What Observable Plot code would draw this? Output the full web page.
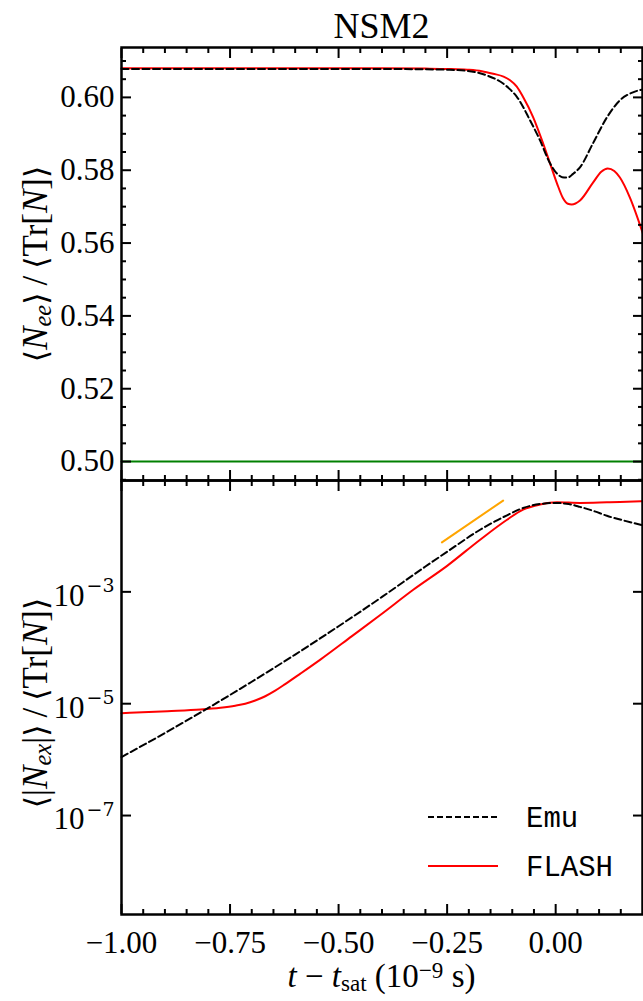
<!DOCTYPE html>
<html>
<head>
<meta charset="utf-8">
<script src="https://cdn.jsdelivr.net/npm/d3@7"></script>
<script src="https://cdn.jsdelivr.net/npm/@observablehq/plot@0.6"></script>
<style>
html,body{margin:0;padding:0;background:#fff;}
#chart{position:relative;width:643px;height:1001px;overflow:hidden;font-family:"Liberation Serif","Times New Roman",serif;color:#000;}
#chart .panel{position:absolute;left:0;}
.lbl{position:absolute;white-space:nowrap;}
.ylab{font-size:35px;line-height:38px;transform:translate(-50%,-50%) rotate(-90deg);}
.lbl sub,.lbl sup{font-size:0.7em;line-height:0;}
.lbl sup{vertical-align:0.38em;}
.lbl sub{vertical-align:-0.18em;}
.br{font-family:"DejaVu Serif",serif;font-size:0.9em;}
</style>
</head>
<body>
<div id="chart"></div>
<script>
// ---------- data ----------
const title = "NSM2";
const seriesNames = ["Emu", "FLASH"];
const seriesColors = ["#000000", "#ff0000"];

// top panel: <N_ee>/<Tr[N]>
const topFlashT = [-1.0, -0.6, -0.4, -0.30, -0.25, -0.204, -0.17, -0.144, -0.12, -0.105, -0.09, -0.075, -0.052, -0.029, -0.013, 0.003, 0.017, 0.028, 0.037, 0.056, 0.086, 0.105, 0.120, 0.135, 0.148, 0.171, 0.201];
const topFlashV = [0.6080, 0.6080, 0.6080, 0.6079, 0.6078, 0.6076, 0.6072, 0.6065, 0.6057, 0.6047, 0.6030, 0.6001, 0.5946, 0.5874, 0.5819, 0.5764, 0.5723, 0.5708, 0.5706, 0.5717, 0.5766, 0.5796, 0.5805, 0.5798, 0.5780, 0.5725, 0.5626];
const topEmuT = [-1.0, -0.4, -0.30, -0.25, -0.204, -0.18, -0.158, -0.121, -0.105, -0.089, -0.059, -0.036, -0.013, 0.003, 0.015, 0.028, 0.040, 0.056, 0.086, 0.118, 0.148, 0.178, 0.201];
const topEmuV = [0.6078, 0.6078, 0.6077, 0.6076, 0.6073, 0.6068, 0.6060, 0.6038, 0.6022, 0.6001, 0.5937, 0.5882, 0.5819, 0.5791, 0.5781, 0.5780, 0.5790, 0.5808, 0.5874, 0.5945, 0.5992, 0.6014, 0.6022];
const greenT = [-1.0, 0.2];
const greenV = [0.5, 0.5];

// bottom panel: <|N_ex|>/<Tr[N]>
const botFlashT = [-1.0, -0.894, -0.818, -0.772, -0.738, -0.715, -0.692, -0.669, -0.646, -0.623, -0.588, -0.542, -0.47, -0.404, -0.328, -0.250, -0.174, -0.112, -0.075, -0.036, 0.003, 0.056, 0.118, 0.148, 0.201];
const botFlashV = [6.76e-6, 7.35e-6, 7.87e-6, 8.47e-6, 9.21e-6, 1.00e-5, 1.14e-5, 1.36e-5, 1.71e-5, 2.24e-5, 3.45e-5, 6.15e-5, 1.60e-4, 3.86e-4, 1.09e-3, 2.92e-3, 8.57e-3, 1.95e-2, 2.96e-2, 3.64e-2, 4.00e-2, 3.90e-2, 4.00e-2, 4.06e-2, 4.17e-2];
const botEmuT = [-1.0, -0.9, -0.8, -0.7, -0.6, -0.5, -0.4, -0.3, -0.25, -0.174, -0.14, -0.112, -0.075, -0.036, 0.0, 0.03, 0.056, 0.09, 0.118, 0.16, 0.201];
const botEmuV = [1.11e-6, 2.99e-6, 8.41e-6, 2.47e-5, 7.57e-5, 2.43e-4, 8.11e-4, 2.84e-3, 5.21e-3, 1.29e-2, 1.82e-2, 2.34e-2, 3.16e-2, 3.72e-2, 3.89e-2, 3.72e-2, 3.31e-2, 2.75e-2, 2.29e-2, 1.86e-2, 1.55e-2];
const orangeT = [-0.262, -0.121];
const orangeV = [7.66e-3, 4.29e-2];

// ticks
const xMajor = [-1, -0.75, -0.5, -0.25, 0];
const xMinor = [-0.95, -0.9, -0.85, -0.8, -0.7, -0.65, -0.6, -0.55, -0.45, -0.4, -0.35, -0.3, -0.2, -0.15, -0.1, -0.05, 0.05, 0.1, 0.15];
const yTopMajor = [0.50, 0.52, 0.54, 0.56, 0.58, 0.60];
const yTopMinor = [0.495, 0.505, 0.51, 0.515, 0.525, 0.53, 0.535, 0.545, 0.55, 0.555, 0.565, 0.57, 0.575, 0.585, 0.59, 0.595, 0.605, 0.61];
const yBotMajor = [1e-3, 1e-5, 1e-7];

// ---------- build ----------
const zip = (T, V) => T.map((t, i) => ({t, v: V[i]}));
const fmtX = d => (d < 0 ? "\u2212" : "") + Math.abs(d).toFixed(2);
const supDigits = d => "\u2212" + Math.round(-Math.log10(d));

function frameTicks(xT, yT, len) {
  const o = {tickSize: len, tickFormat: () => "", strokeWidth: 2, label: null};
  return [
    Plot.axisX({...o, ticks: xT, anchor: "bottom", dy: -len}),
    Plot.axisX({...o, ticks: xT, anchor: "top", dy: len}),
    Plot.axisY({...o, ticks: yT, anchor: "left", dx: len}),
    Plot.axisY({...o, ticks: yT, anchor: "right", dx: -len})
  ];
}

const baseStyle = {fontFamily: "'Liberation Serif','Times New Roman',serif", fontSize: "31px", color: "black", background: "transparent", overflow: "visible"};
const dash = "7,3.5";

const topPlot = Plot.plot({
  width: 643, height: 490,
  marginLeft: 121, marginRight: 1, marginTop: 47, marginBottom: 10,
  style: baseStyle,
  x: {domain: [-1, 0.2], label: null},
  y: {domain: [0.4948, 0.6137], label: null},
  marks: [
    Plot.line(zip(greenT, greenV), {x: "t", y: "v", stroke: "#008000", strokeWidth: 2}),
    Plot.line(zip(topFlashT, topFlashV), {x: "t", y: "v", stroke: seriesColors[1], strokeWidth: 2, curve: "monotone-x"}),
    Plot.line(zip(topEmuT, topEmuV), {x: "t", y: "v", stroke: seriesColors[0], strokeWidth: 2, strokeDasharray: dash, curve: "monotone-x"}),
    ...frameTicks(xMajor, yTopMajor, 10),
    ...frameTicks(xMinor, yTopMinor, 5),
    Plot.axisY({anchor: "left", ticks: yTopMajor, tickSize: 0, tickPadding: 7, tickFormat: d => d.toFixed(2), label: null}),
    Plot.frame({stroke: "black", strokeWidth: 2.5})
  ]
});

const botPlot = Plot.plot({
  width: 643, height: 530,
  marginLeft: 121, marginRight: 1, marginTop: 10, marginBottom: 86,
  style: baseStyle,
  x: {domain: [-1, 0.2], label: null},
  y: {type: "log", domain: [1.7e-9, 0.098], label: null},
  marks: [
    Plot.line(zip(orangeT, orangeV), {x: "t", y: "v", stroke: "#ffa500", strokeWidth: 2}),
    Plot.line(zip(botFlashT, botFlashV), {x: "t", y: "v", stroke: seriesColors[1], strokeWidth: 2, curve: "monotone-x"}),
    Plot.line(zip(botEmuT, botEmuV), {x: "t", y: "v", stroke: seriesColors[0], strokeWidth: 2, strokeDasharray: dash, curve: "monotone-x"}),
    ...frameTicks(xMajor, yBotMajor, 10),
    ...frameTicks(xMinor, [], 5).slice(0, 2),
    Plot.axisX({anchor: "bottom", ticks: xMajor, tickSize: 0, tickPadding: 16, tickFormat: fmtX, label: null}),
    Plot.text(yBotMajor, {y: d => d, frameAnchor: "left", text: () => "10", textAnchor: "end", dx: -37, dy: 4, fontSize: 31}),
    Plot.text(yBotMajor, {y: d => d, frameAnchor: "left", text: supDigits, textAnchor: "end", dx: -7, dy: -6, fontSize: 19, fontFamily: "'DejaVu Serif',serif"}),
    Plot.frame({stroke: "black", strokeWidth: 2.5})
  ]
});

const chart = document.getElementById("chart");
topPlot.classList.add("panel"); topPlot.style.top = "0px";
botPlot.classList.add("panel"); botPlot.style.top = "470px";
chart.appendChild(topPlot);
chart.appendChild(botPlot);

function addLabel(html, css, cls) {
  const d = document.createElement("div");
  d.className = "lbl" + (cls ? " " + cls : "");
  d.innerHTML = html;
  Object.assign(d.style, css);
  chart.appendChild(d);
  return d;
}
const L = '<span class="br">\u27E8</span>', R = '<span class="br">\u27E9</span>';
addLabel(title, {left: "121px", width: "521px", textAlign: "center", top: "8px", fontSize: "36px", lineHeight: "36px"});
addLabel(L + "<i>N</i><sub><i>ee</i></sub>" + R + "\u2009/\u2009" + L + "Tr[<i>N</i>]" + R, {left: "36px", top: "264px"}, "ylab");
addLabel(L + "|<i>N</i><sub><i>ex</i></sub>|" + R + "\u2009/\u2009" + L + "Tr[<i>N</i>]" + R, {left: "36px", top: "703px"}, "ylab");
addLabel("<i>t</i> \u2212 <i>t</i><sub>sat</sub> (10<sup>\u22129</sup> s)", {left: "121px", width: "521px", textAlign: "center", top: "960px", fontSize: "33px", lineHeight: "32px"});

// legend
const ns = "http://www.w3.org/2000/svg";
const lg = document.createElementNS(ns, "svg");
lg.setAttribute("width", 223); lg.setAttribute("height", 100);
Object.assign(lg.style, {position: "absolute", left: "420px", top: "792px"});
seriesNames.forEach((name, i) => {
  const y = 25 + i * 49;
  const ln = document.createElementNS(ns, "line");
  ln.setAttribute("x1", 8); ln.setAttribute("x2", 78);
  ln.setAttribute("y1", y); ln.setAttribute("y2", y);
  ln.setAttribute("stroke", seriesColors[i]); ln.setAttribute("stroke-width", 2);
  if (i === 0) ln.setAttribute("stroke-dasharray", "6,3");
  lg.appendChild(ln);
  const tx = document.createElementNS(ns, "text");
  tx.setAttribute("x", 106); tx.setAttribute("y", y + 10);
  tx.setAttribute("font-family", "'Liberation Mono','DejaVu Sans Mono',monospace");
  tx.setAttribute("font-size", 29);
  tx.textContent = name;
  lg.appendChild(tx);
});
chart.appendChild(lg);
</script>
</body>
</html>
